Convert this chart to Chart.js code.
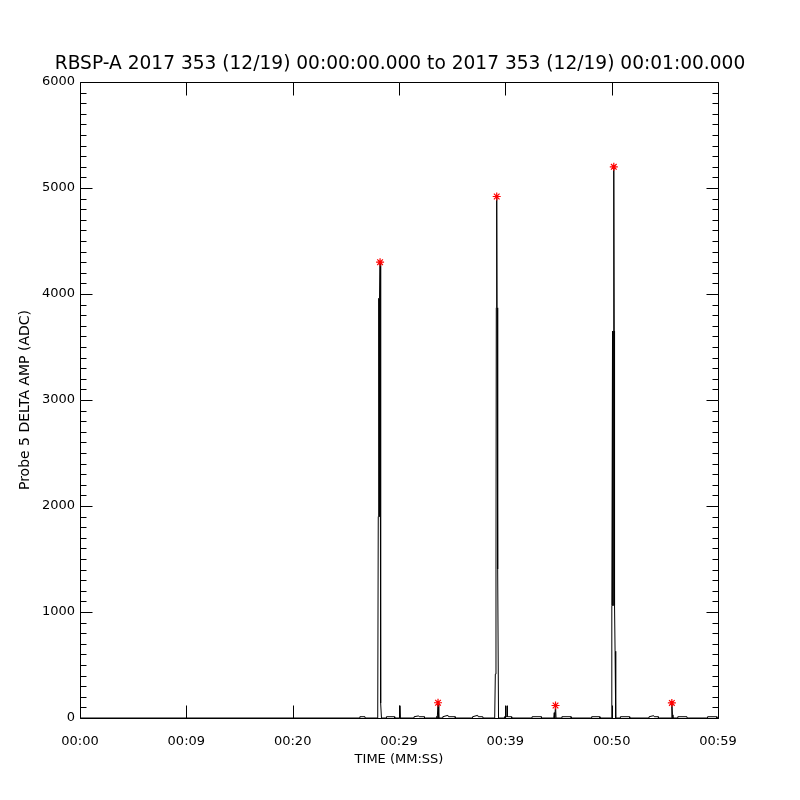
<!DOCTYPE html>
<html>
<head>
<meta charset="utf-8">
<script src="https://cdn.jsdelivr.net/npm/chart.js@4.4.1/dist/chart.umd.min.js"></script>
<style>
html,body{margin:0;padding:0;background:#fff;}
#wrap{width:800px;height:800px;}
</style>
</head>
<body>
<div id="wrap"><canvas id="c" width="800" height="800"></canvas></div>
<script>
// ---- data ----
const titleText = 'RBSP-A 2017 353 (12/19) 00:00:00.000 to 2017 353 (12/19) 00:01:00.000';
const xAxisTitle = 'TIME (MM:SS)';
const yAxisTitle = 'Probe 5 DELTA AMP (ADC)';
const xTickLabels = ['00:00','00:09','00:20','00:29','00:39','00:50','00:59'];

const times = [
  0, 26.3, 26.32, 26.8, 26.82,
  28.0, 28.05, 28.1, 28.13, 28.17, 28.22, 28.25, 28.3, 28.35,
  28.8, 28.82, 29.58, 29.6,
  30.05, 30.09, 30.13,
  31.4, 31.42, 31.85, 31.9, 32.38, 32.4,
  33.5, 33.55, 33.6, 33.67, 33.72, 33.76,
  34.1, 34.12, 34.6, 34.65, 35.28, 35.3,
  36.9, 36.92, 37.4, 37.45, 37.88, 37.9,
  39.0, 39.06, 39.12, 39.15, 39.19, 39.22, 39.25, 39.28, 39.31, 39.36,
  39.9, 39.92, 40.15, 40.17, 40.19, 40.58, 40.6,
  42.5, 42.52, 43.38, 43.4,
  44.55, 44.6, 44.65, 44.72, 44.77,
  45.3, 45.32, 46.18, 46.2,
  48.1, 48.12, 48.88, 48.9,
  49.95, 50.0, 50.03, 50.08, 50.12, 50.16, 50.2, 50.24, 50.27, 50.32, 50.38,
  50.8, 50.82, 51.68, 51.7,
  53.5, 53.52, 53.95, 54.0, 54.38, 54.4,
  55.6, 55.66, 55.72, 55.76,
  56.2, 56.22, 57.08, 57.1,
  59.0, 59.02, 59.88, 59.9, 60
];
const amps = [
  0, 0, 12, 12, 0,
  0, 1900, 3960, 1900, 3960, 4300, 1900, 140, 0,
  0, 12, 12, 0,
  0, 116, 0,
  0, 12, 20, 12, 12, 0,
  0, 15, 0, 140, 60, 0,
  0, 12, 25, 12, 12, 0,
  0, 12, 25, 12, 12, 0,
  0, 414, 1405, 3870, 4920, 3870, 1405, 3870, 1405, 0,
  0, 12, 12, 115, 12, 12, 0,
  0, 12, 12, 0,
  0, 50, 0, 120, 0,
  0, 12, 12, 0,
  0, 12, 12, 0,
  0, 120, 1060, 3650, 1060, 3650, 5200, 3650, 1060, 630, 0,
  0, 12, 12, 0,
  0, 12, 22, 12, 12, 0,
  0, 140, 30, 0,
  0, 12, 12, 0,
  0, 12, 12, 0, 0
];
const peakTimes = [28.22, 33.67, 39.19, 44.72, 50.2, 55.66];
const peakAmps  = [4300, 144, 4920, 118, 5200, 142];

// ---- chart ----
const FONT = 'DejaVu Sans';
const lineData = times.map((t, i) => ({x: t, y: amps[i]}));
const peakData = peakTimes.map((t, i) => ({x: t, y: peakAmps[i]}));

const idlTicks = {
  id: 'idlTicks',
  afterDraw(chart) {
    const {ctx, chartArea: a, scales: {x, y}} = chart;
    ctx.save();
    ctx.strokeStyle = '#000';
    ctx.lineWidth = 1;
    ctx.beginPath();
    const L = Math.round(a.left) + 0.5, R = Math.round(a.right) + 0.5;
    const T = Math.round(a.top) + 0.5, B = Math.round(a.bottom) + 0.5;
    ctx.rect(L, T, R - L, B - T);
    for (let v = 0; v <= 6000; v += 100) {
      const p = Math.round(y.getPixelForValue(v)) + 0.5;
      const len = (v % 1000 === 0) ? 12 : 6;
      ctx.moveTo(L, p); ctx.lineTo(L + len, p);
      ctx.moveTo(R, p); ctx.lineTo(R - len, p);
    }
    for (let v = 0; v <= 60; v += 10) {
      const p = Math.round(x.getPixelForValue(v)) + 0.5;
      ctx.moveTo(p, B); ctx.lineTo(p, B - 13);
      ctx.moveTo(p, T); ctx.lineTo(p, T + 13);
    }
    ctx.stroke();
    ctx.restore();
  }
};

new Chart(document.getElementById('c'), {
  type: 'scatter',
  data: {
    datasets: [
      {
        data: lineData,
        showLine: true,
        borderColor: '#000',
        borderWidth: 1,
        pointRadius: 0,
        tension: 0,
        order: 2
      },
      {
        data: peakData,
        showLine: false,
        pointStyle: 'star',
        pointRadius: 4,
        borderColor: '#ff0000',
        backgroundColor: '#ff0000',
        pointBorderWidth: 1.2,
        order: 1
      }
    ]
  },
  plugins: [idlTicks],
  options: {
    responsive: false,
    animation: false,
    devicePixelRatio: 1,
    layout: {padding: 0},
    plugins: {
      legend: {display: false},
      tooltip: {enabled: false},
      title: {
        display: true,
        text: titleText,
        color: '#000',
        font: {family: FONT, size: 18.6, weight: 'normal', lineHeight: 1.2},
        padding: {top: 53, bottom: 6.7}
      }
    },
    scales: {
      x: {
        type: 'linear',
        min: 0, max: 60,
        afterFit: s => { s.height = 82; },
        grid: {display: false, drawTicks: false},
        border: {display: false},
        ticks: {
          stepSize: 10,
          autoSkip: false,
          maxRotation: 0,
          padding: 16,
          color: '#000',
          font: {family: FONT, size: 13},
          callback: v => xTickLabels[Math.round(v / 10)] ?? ''
        },
        title: {
          display: true,
          text: xAxisTitle,
          color: '#000',
          font: {family: FONT, size: 13},
          padding: {top: 0, bottom: 33}
        }
      },
      y: {
        type: 'linear',
        min: 0, max: 6000,
        afterFit: s => { s.width = 80; },
        grid: {display: false, drawTicks: false},
        border: {display: false},
        ticks: {
          stepSize: 100,
          autoSkip: false,
          padding: 5,
          color: '#000',
          font: {family: FONT, size: 13},
          callback: v => (v % 1000 === 0 ? String(v) : '')
        },
        title: {
          display: true,
          text: yAxisTitle,
          color: '#000',
          font: {family: FONT, size: 14},
          padding: {top: 17, bottom: 0}
        }
      },
      yRight: {
        type: 'linear',
        position: 'right',
        min: 0, max: 6000,
        afterFit: s => { s.width = 82; },
        grid: {display: false, drawTicks: false},
        border: {display: false},
        ticks: {display: false}
      }
    }
  }
});
</script>
</body>
</html>
